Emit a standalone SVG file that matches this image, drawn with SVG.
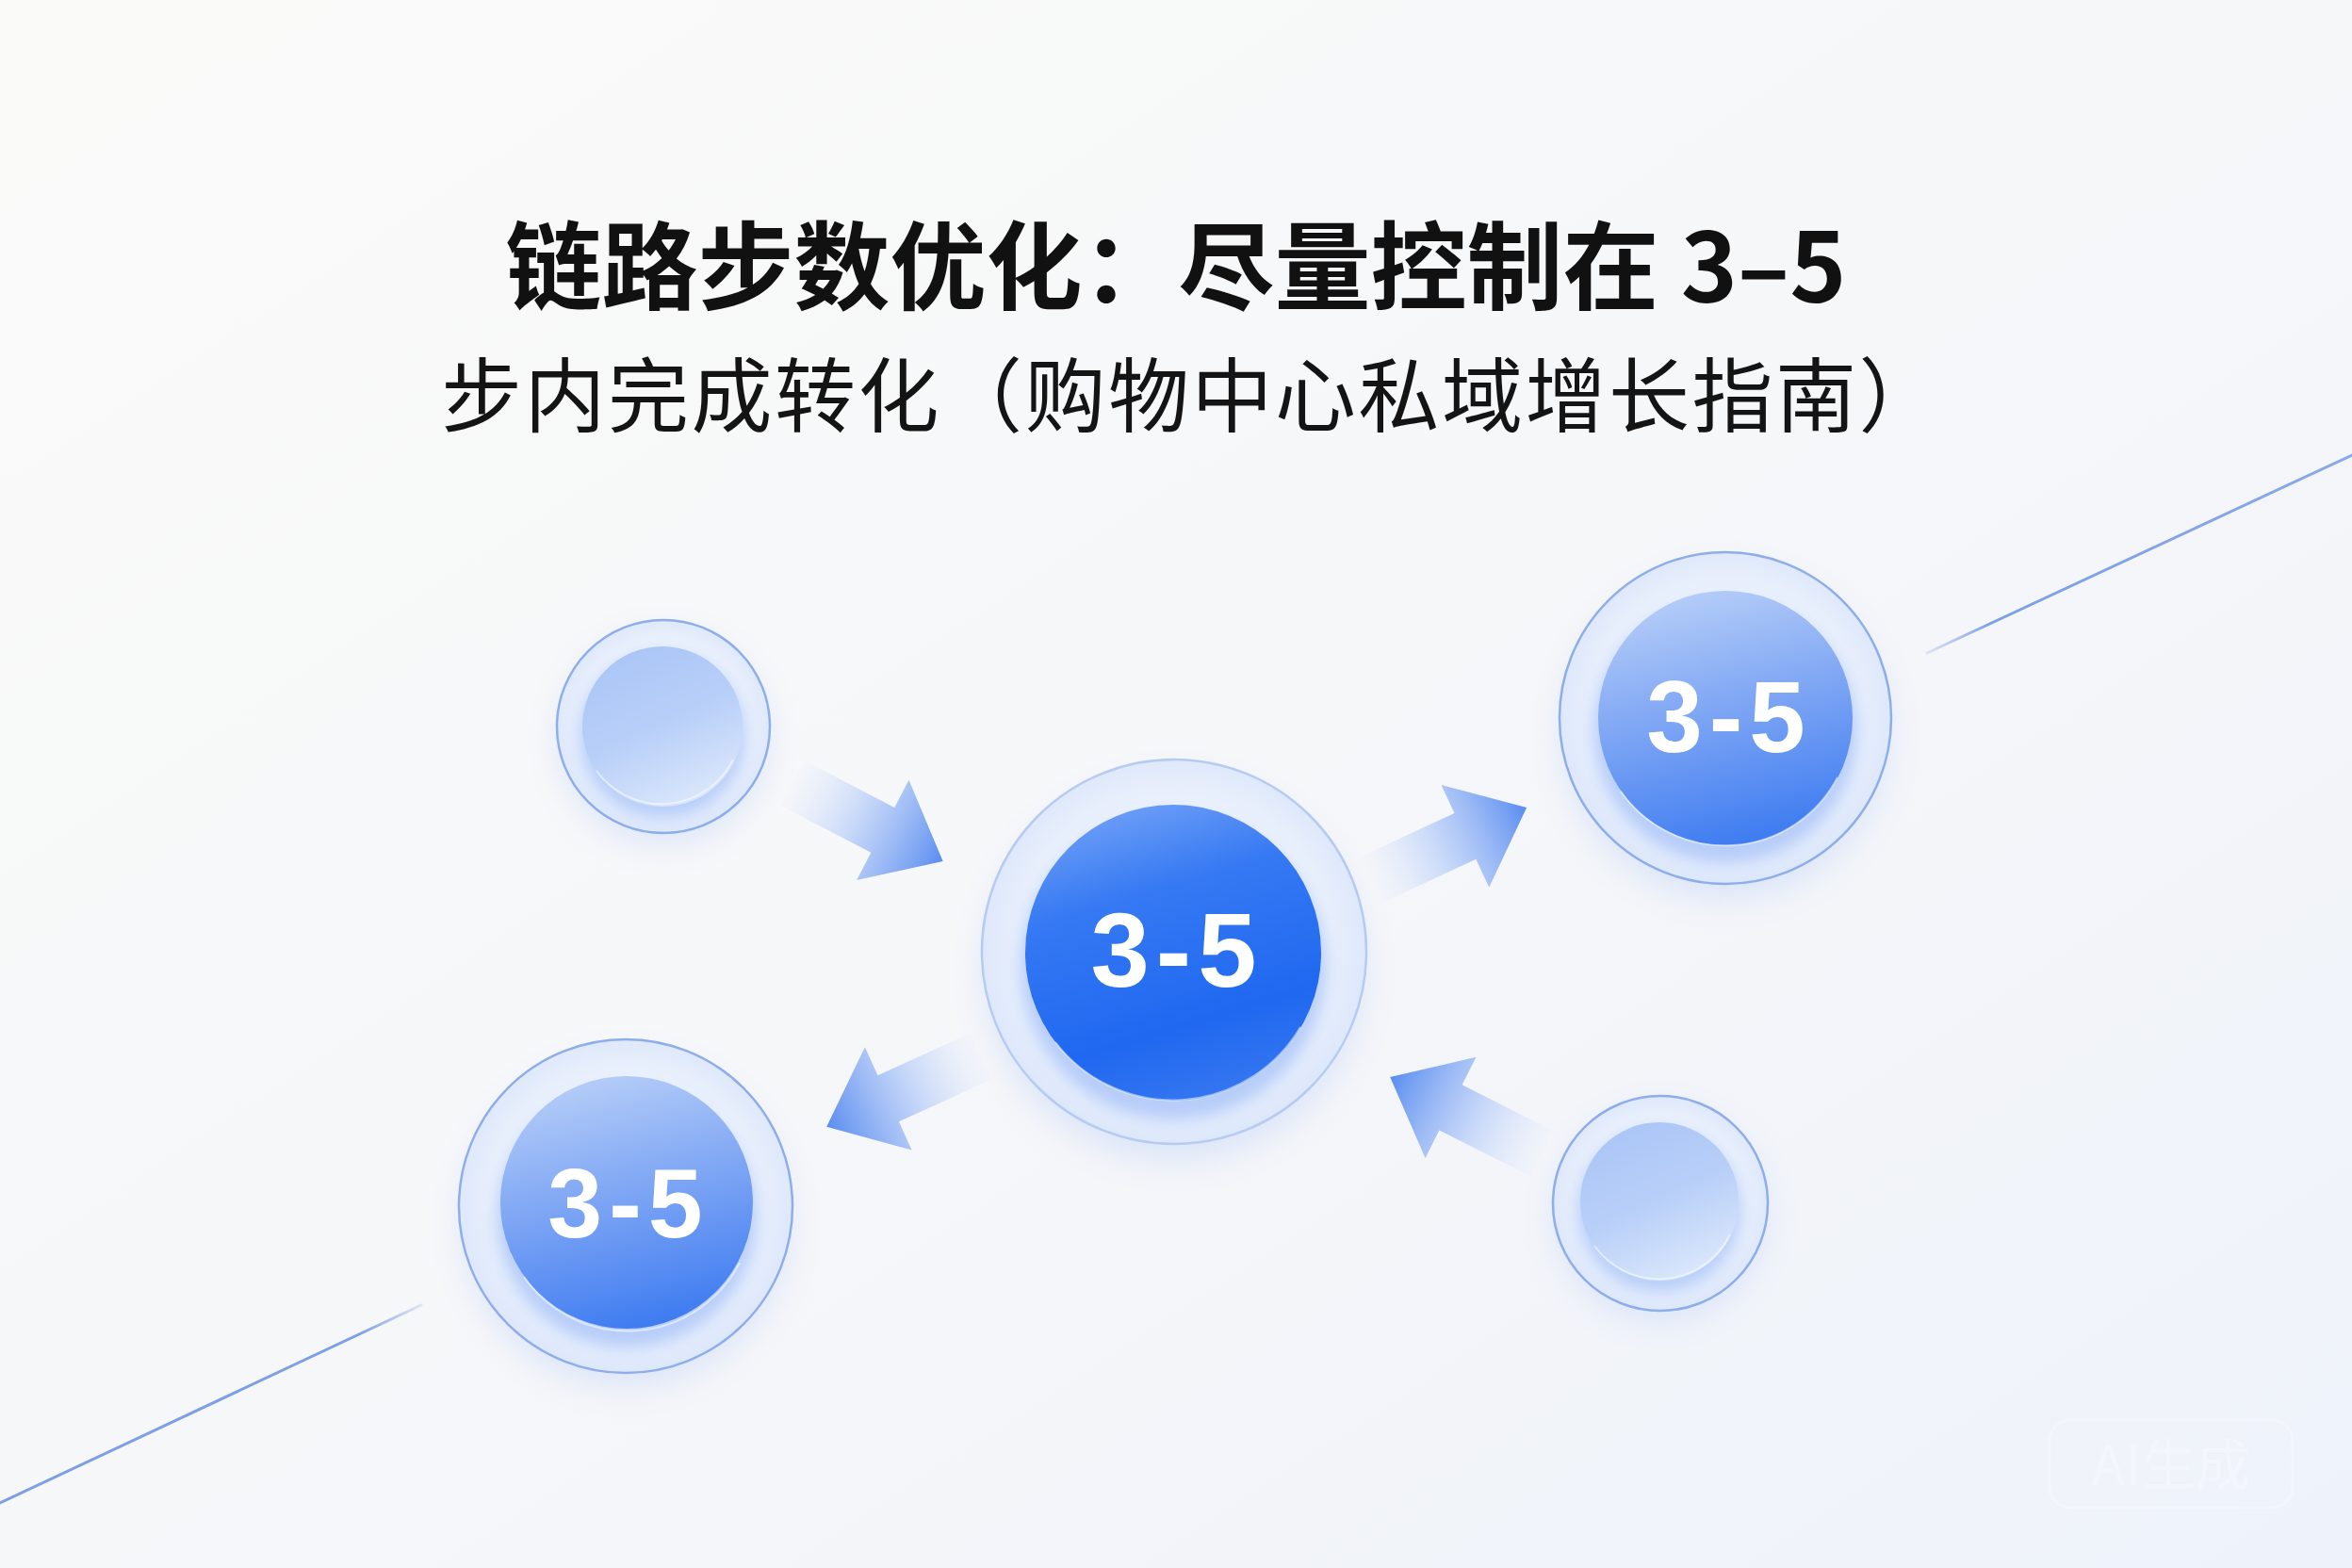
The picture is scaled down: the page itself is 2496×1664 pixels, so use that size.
<svg xmlns="http://www.w3.org/2000/svg" width="2496" height="1664" viewBox="0 0 2496 1664">
  <defs>
    <linearGradient id="bg" x1="0" y1="0" x2="1" y2="1">
      <stop offset="0" stop-color="#fafaf9"/>
      <stop offset="0.5" stop-color="#f6f7f9"/>
      <stop offset="1" stop-color="#eef2fa"/>
    </linearGradient>
    <radialGradient id="ringFill" cx="0.5" cy="0.5" r="0.5">
      <stop offset="0" stop-color="#ffffff" stop-opacity="0.7"/>
      <stop offset="0.7" stop-color="#f3f7fe" stop-opacity="0.8"/>
      <stop offset="1" stop-color="#dce7fb" stop-opacity="0.9"/>
    </radialGradient>
    <linearGradient id="innerSmall" x1="0.25" y1="0" x2="0.7" y2="1">
      <stop offset="0" stop-color="#aac5f6"/>
      <stop offset="0.5" stop-color="#b8cff8"/>
      <stop offset="1" stop-color="#dce8fc"/>
    </linearGradient>
    <linearGradient id="innerMid" x1="0.35" y1="0" x2="0.6" y2="1">
      <stop offset="0" stop-color="#b5cdf8"/>
      <stop offset="0.45" stop-color="#80a7f4"/>
      <stop offset="1" stop-color="#3d7bf1"/>
    </linearGradient>
    <linearGradient id="innerMain" x1="0.3" y1="0" x2="0.6" y2="1">
      <stop offset="0" stop-color="#6e9ff6"/>
      <stop offset="0.3" stop-color="#3679f3"/>
      <stop offset="0.75" stop-color="#1f68f0"/>
      <stop offset="1" stop-color="#3576f1"/>
    </linearGradient>
    <linearGradient id="arrowGrad" gradientUnits="userSpaceOnUse" x1="0" y1="0" x2="180" y2="0">
      <stop offset="0" stop-color="#dbe6fc" stop-opacity="0.1"/>
      <stop offset="0.45" stop-color="#b4cbf8" stop-opacity="0.75"/>
      <stop offset="1" stop-color="#5a8df0"/>
    </linearGradient>
    <linearGradient id="lineBL" gradientUnits="userSpaceOnUse" x1="0" y1="1595" x2="447" y2="1385">
      <stop offset="0" stop-color="#7c9fe6"/>
      <stop offset="0.85" stop-color="#7c9fe6"/>
      <stop offset="1" stop-color="#7c9fe6" stop-opacity="0.2"/>
    </linearGradient>
    <linearGradient id="lineTR" gradientUnits="userSpaceOnUse" x1="2045" y1="693" x2="2496" y2="483">
      <stop offset="0" stop-color="#7c9fe6" stop-opacity="0.2"/>
      <stop offset="0.15" stop-color="#7c9fe6"/>
      <stop offset="1" stop-color="#8aa9e8"/>
    </linearGradient>
    <filter id="blur" x="-50%" y="-50%" width="200%" height="200%">
      <feGaussianBlur stdDeviation="18"/>
    </filter>
    <filter id="blurS" x="-50%" y="-50%" width="200%" height="200%">
      <feGaussianBlur stdDeviation="8"/>
    </filter>
    <path id="arrowShape" d="M0,-27 L108,-27 L108,-60 L180,0 L108,60 L108,27 L0,27 Z"/>
  </defs>
  <style>
    .title { font-family: "Noto Sans CJK SC", "Noto Sans", sans-serif; font-weight: 700; fill: #111111; }
    .sub { font-family: "Noto Sans CJK SC", "Noto Sans", sans-serif; font-weight: 400; fill: #141414; letter-spacing: 2.5px; }
    .num { font-family: "Liberation Sans", Arial, sans-serif; font-weight: 700; fill: #ffffff; text-anchor: middle; letter-spacing: 7px; }
    .ring { fill: url(#ringFill); stroke: #8eaeea; stroke-width: 2.5; }
    .ringLight { fill: url(#ringFill); stroke: #b6cbf2; stroke-width: 2.5; }
    .shadow { fill: #b9cdf6; opacity: 0.45; filter: url(#blur); }
    .glow { fill: #8db1f6; opacity: 0.55; filter: url(#blurS); }
    .rim { fill: none; stroke: #ffffff; stroke-width: 2; opacity: 0.5; }
    .arrow { fill: url(#arrowGrad); }
    .wm { font-family: "Noto Sans CJK SC", "Noto Sans", sans-serif; font-size: 58px; fill: #f3f6fd; text-anchor: middle; }
  </style>

  <rect x="0" y="0" width="2496" height="1664" fill="url(#bg)"/>

  <g id="deco-lines">
    <line x1="0" y1="1595" x2="447" y2="1385" stroke="url(#lineBL)" stroke-width="3" stroke-linecap="round"/>
    <line x1="2045" y1="693" x2="2496" y2="483" stroke="url(#lineTR)" stroke-width="3" stroke-linecap="round"/>
  </g>

  <g id="title">
    <text class="title" x="1248" y="321" font-size="102" text-anchor="middle">链路步数优化：尽量控制在 3–5</text>
    <text class="sub" x="468" y="452" font-size="86">步内完成转化（购物中心私域增长指南）</text>
  </g>

  <g id="connectors">
    <use href="#arrowShape" class="arrow" transform="translate(841,831) rotate(27.5)"/>
    <use href="#arrowShape" class="arrow" transform="translate(1457,933) rotate(-25)"/>
    <use href="#arrowShape" class="arrow" transform="translate(1041,1121) rotate(155.5)"/>
    <use href="#arrowShape" class="arrow" transform="translate(1636,1224) rotate(206.7)"/>
  </g>

  <g id="node-top-left">
    <circle class="shadow" cx="704" cy="785" r="110"/>
    <circle class="ring" cx="704" cy="771" r="113"/>
    <circle class="glow" cx="703" cy="780" r="88"/>
    <circle cx="703" cy="771" r="85" fill="url(#innerSmall)"/>
    <path class="rim" d="M633,818 A85,85 0 0 0 778,806"/>
  </g>

  <g id="node-center">
    <circle class="shadow" cx="1246" cy="1030" r="200"/>
    <circle class="ringLight" cx="1246" cy="1010" r="204"/>
    <circle class="glow" cx="1245" cy="1026" r="162"/>
    <circle cx="1245" cy="1011" r="157" fill="url(#innerMain)"/>
    <path class="rim" d="M1120,1106 A157,157 0 0 0 1380,1090"/>
    <text class="num" x="1249" y="1047" font-size="112">3-5</text>
  </g>

  <g id="node-top-right">
    <circle class="shadow" cx="1831" cy="780" r="172"/>
    <circle class="ring" cx="1831" cy="762" r="176"/>
    <circle class="glow" cx="1831" cy="776" r="140"/>
    <circle cx="1831" cy="762" r="135" fill="url(#innerMid)"/>
    <path class="rim" d="M1720,840 A135,135 0 0 0 1950,825"/>
    <text class="num" x="1835" y="798" font-size="107">3-5</text>
  </g>

  <g id="node-bottom-left">
    <circle class="shadow" cx="664" cy="1298" r="172"/>
    <circle class="ring" cx="664" cy="1280" r="177"/>
    <circle class="glow" cx="665" cy="1292" r="138"/>
    <circle cx="665" cy="1276" r="134" fill="url(#innerMid)"/>
    <path class="rim" d="M556,1355 A134,134 0 0 0 785,1340"/>
    <text class="num" x="667" y="1313" font-size="104">3-5</text>
  </g>

  <g id="node-bottom-right">
    <circle class="shadow" cx="1762" cy="1290" r="110"/>
    <circle class="ring" cx="1762" cy="1277" r="114"/>
    <circle class="glow" cx="1761" cy="1284" r="87"/>
    <circle cx="1761" cy="1275" r="84" fill="url(#innerSmall)"/>
    <path class="rim" d="M1692,1322 A84,84 0 0 0 1836,1310"/>
  </g>

  <g id="watermark">
    <rect x="2175" y="1507" width="258" height="93" rx="22" fill="none" stroke="#f3f6fd" stroke-width="3"/>
    <text class="wm" x="2304" y="1576">AI生成</text>
  </g>
</svg>
